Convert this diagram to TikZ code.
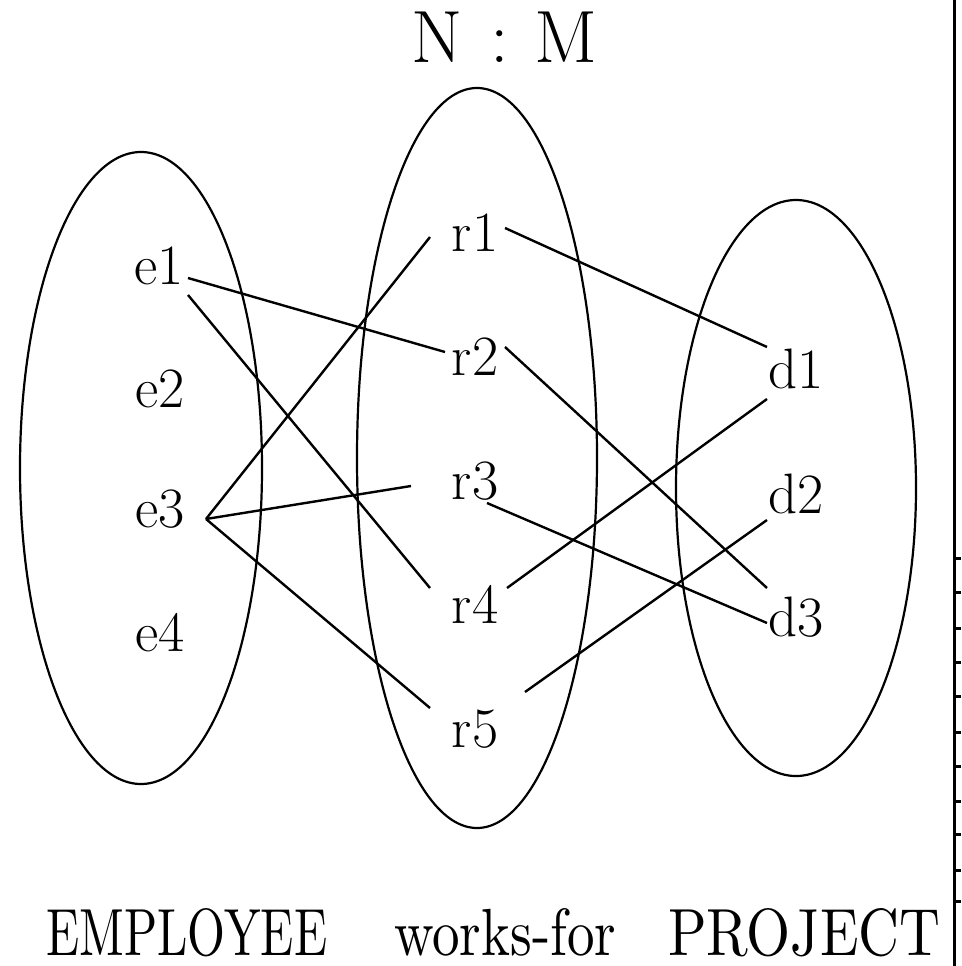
\documentclass[tikz,border=0pt]{standalone}
\usetikzlibrary{shapes.geometric}
\begin{document}
\begin{tikzpicture}[x=1pt,y=-1pt,
  lbl/.style={anchor=base, inner sep=0pt, font=\fontsize{57}{62}\selectfont},
  conn/.style={line width=2.4pt},
  setbox/.style={draw, ellipse, line width=2.2pt, inner sep=0pt},
  rulestyle/.style={line width=3pt}]
\useasboundingbox (0,0) rectangle (961,966);
% sets
\node[setbox, minimum width=242pt, minimum height=632pt] (setE) at (141,468) {};
\node[setbox, minimum width=240pt, minimum height=740pt] (setR) at (477,458) {};
\node[setbox, minimum width=240pt, minimum height=576pt] (setD) at (796,488) {};
% title
\node[anchor=base west, inner sep=0pt, font=\fontsize{74}{84}\selectfont] (title) at (411,63) {N\hspace{28pt}:\hspace{26pt}M};
% labels
\node[lbl] (e1) at (159,284) {e1};
\node[lbl] (e2) at (160,407) {e2};
\node[lbl] (e3) at (160,527) {e3};
\node[lbl] (e4) at (160,651) {e4};
\node[lbl] (r1) at (475,251) {r1};
\node[lbl] (r2) at (475,375) {r2};
\node[lbl] (r3) at (475,499) {r3};
\node[lbl] (r4) at (475,623) {r4};
\node[lbl] (r5) at (475,747) {r5};
\node[lbl] (d1) at (796,388) {d1};
\node[lbl] (d2) at (796,513) {d2};
\node[lbl] (d3) at (796,636) {d3};
% connectors
\draw[conn] ([shift={(29,-6)}]e1.base) -- ([shift={(-30,-23)}]r2.base);
\draw[conn] ([shift={(29,11)}]e1.base) -- ([shift={(-45,-35)}]r4.base);
\draw[conn] ([shift={(46,-8)}]e3.base) -- ([shift={(-45,-14)}]r1.base);
\draw[conn] ([shift={(46,-8)}]e3.base) -- ([shift={(-64,-13)}]r3.base);
\draw[conn] ([shift={(46,-8)}]e3.base) -- ([shift={(-45,-39)}]r5.base);
\draw[conn] ([shift={(30,-23)}]r1.base) -- ([shift={(-29,-41)}]d1.base);
\draw[conn] ([shift={(30,-28)}]r2.base) -- ([shift={(-29,-48)}]d3.base);
\draw[conn] ([shift={(12,4)}]r3.base) -- ([shift={(-29,-13)}]d3.base);
\draw[conn] ([shift={(32,-35)}]r4.base) -- ([shift={(-29,11)}]d1.base);
\draw[conn] ([shift={(50,-55)}]r5.base) -- ([shift={(-29,7)}]d2.base);
% bottom captions
\node[anchor=base west, inner sep=0pt] (capE) at (46,955) {\resizebox{281pt}{47pt}{EMPLOYEE}};
\node[anchor=base west, inner sep=0pt] (capR) at (394,955) {\resizebox{222pt}{47pt}{works-for}};
\node[anchor=base west, inner sep=0pt] (capD) at (668,955) {\resizebox{272pt}{47pt}{PROJECT}};
% right rule with ticks
\coordinate (ruletop) at (954,0);
\coordinate (rulebot) at (954,966);
\draw[rulestyle] (ruletop) -- (rulebot);
\foreach \yy in {558,592,628,662,696,732,766,801,834,870,901}
  \draw[rulestyle] (954,\yy) -- (961,\yy);
\end{tikzpicture}
\end{document}
